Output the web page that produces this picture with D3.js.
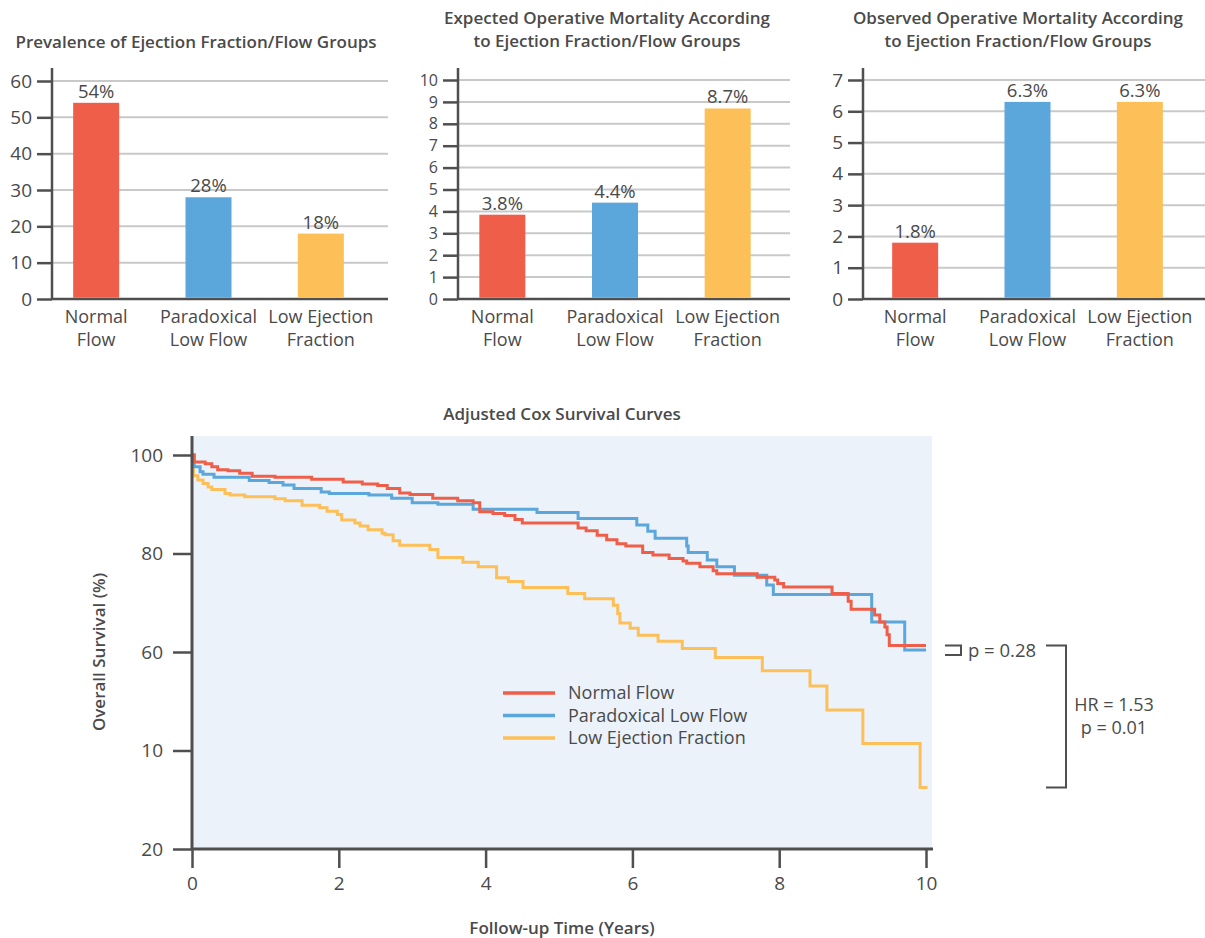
<!DOCTYPE html>
<html><head><meta charset="utf-8">
<script src="https://cdn.jsdelivr.net/npm/d3@7/dist/d3.min.js"></script>
<style>
body{margin:0;background:#fff;}
text{font-family:"Open Sans","Noto Sans",sans-serif;fill:#4a4a4a;}
</style></head>
<body>
<svg id="c" width="1205" height="938"></svg>
<script>
// ---------- DATA ----------
const groups = ["Normal Flow", "Paradoxical Low Flow", "Low Ejection Fraction"];
const groupLines = [["Normal","Flow"],["Paradoxical","Low Flow"],["Low Ejection","Fraction"]];
const colors = ["#EF5E48", "#5BA6DA", "#FDBF58"];

const prevalence = [54, 28, 18];
const prevalenceLabels = ["54%", "28%", "18%"];
const prevalenceTicks = [0, 10, 20, 30, 40, 50, 60];

const expectedMort = [3.85, 4.4, 8.7];
const expectedLabels = ["3.8%", "4.4%", "8.7%"];
const expectedTicks = [0,1,2,3,4,5,6,7,8,9,10];

const observedMort = [1.8, 6.3, 6.3];
const observedLabels = ["1.8%", "6.3%", "6.3%"];
const observedTicks = [0,1,2,3,4,5,6,7];

const survXTicks = [0, 2, 4, 6, 8, 10];
const survYTicks = [100, 80, 60, 40, 20];
const survYTickLabels = ["100", "80", "60", "10", "20"];

// [years, survival %]
const survNormal = [[0,100],[0.03,98.6],[0.18,98.2],[0.27,97.6],[0.35,97.0],[0.49,96.8],[0.65,96.3],[0.82,95.7],[1.13,95.5],[1.63,95.1],[2.06,94.5],[2.32,94.1],[2.53,93.8],[2.66,93.2],[2.83,92.3],[2.97,92.0],[3.28,91.2],[3.62,90.7],[3.83,90.3],[3.92,88.5],[4.10,88.1],[4.26,87.7],[4.40,86.9],[4.50,86.2],[5.26,85.2],[5.37,84.6],[5.52,83.7],[5.65,82.8],[5.79,82.0],[5.91,81.5],[6.14,80.2],[6.28,79.7],[6.50,79.0],[6.69,78.5],[6.74,78.0],[6.92,77.3],[7.10,76.5],[7.15,75.9],[7.70,75.2],[7.94,74.6],[7.98,73.9],[8.06,73.2],[8.72,71.9],[8.94,70.3],[8.98,68.7],[9.30,67.5],[9.37,66.1],[9.44,65.1],[9.47,63.5],[9.50,61.3],[10.0,61.3]];
const survParadoxical = [[0,100],[0.03,97.6],[0.11,96.6],[0.15,96.1],[0.30,95.5],[0.78,94.8],[1.05,94.4],[1.24,93.9],[1.39,93.2],[1.76,92.5],[1.87,92.2],[2.41,91.9],[2.72,91.2],[3.00,90.3],[3.35,90.0],[3.83,89.0],[4.70,88.3],[5.26,87.1],[6.06,85.8],[6.21,84.5],[6.31,83.1],[6.74,81.5],[6.76,80.2],[7.02,78.7],[7.15,77.3],[7.39,75.6],[7.83,73.6],[7.92,71.7],[9.26,66.1],[9.71,60.4],[10.0,60.4]];
const survLowEF = [[0,100],[0.02,95.8],[0.08,94.9],[0.15,94.2],[0.22,93.5],[0.27,93.0],[0.45,92.2],[0.52,91.9],[0.72,91.5],[1.13,91.1],[1.27,90.7],[1.50,89.8],[1.74,89.3],[1.84,88.6],[1.98,87.9],[2.04,86.8],[2.22,86.2],[2.29,85.6],[2.40,84.8],[2.59,84.1],[2.63,83.8],[2.74,82.6],[2.83,81.7],[3.24,80.8],[3.35,79.2],[3.69,78.2],[3.90,77.3],[4.15,75.1],[4.31,74.3],[4.51,73.1],[5.12,71.9],[5.35,70.8],[5.74,69.5],[5.80,67.8],[5.83,65.9],[5.97,64.8],[6.08,63.4],[6.35,62.2],[6.68,60.7],[7.13,58.9],[7.77,56.2],[8.42,53.1],[8.65,48.2],[9.14,41.4],[9.92,32.5],[10.02,32.5]];
const survSeries = [survNormal, survParadoxical, survLowEF];

// ---------- DRAW ----------
const svg = d3.select("#c");
const axisCol = "#4f4f4f";
const titleSize = "17px";

function barChart(cfg){
  const g = svg.append("g");
  const x = d3.scalePoint().domain(groups).range([cfg.x0, cfg.x1]).padding(0.5);
  const y = d3.scaleLinear().domain([0, cfg.max]).range([299, cfg.yTop]);
  g.selectAll(".grid").data(cfg.ticks.filter(t=>t>0)).join("line")
    .attr("x1", cfg.axisX).attr("x2", cfg.gridEnd)
    .attr("y1", d=>y(d)).attr("y2", d=>y(d))
    .attr("stroke", "#c9c9c9").attr("stroke-width", 2);
  const ax = d3.axisLeft(y).tickValues(cfg.ticks).tickSize(15).tickPadding(5).tickFormat(d3.format("d"));
  const ag = g.append("g").attr("transform", `translate(${cfg.axisX},0)`).call(ax);
  ag.select(".domain").remove();
  ag.selectAll(".tick line").attr("stroke", axisCol).attr("stroke-width", 2.5);
  ag.selectAll(".tick text").style("font-size",cfg.tickSize).attr("fill","#4a4a4a");
  g.append("line").attr("x1", cfg.axisX).attr("x2", cfg.axisX).attr("y1", 68).attr("y2", 300)
    .attr("stroke", axisCol).attr("stroke-width", 2.5);
  g.append("line").attr("x1", cfg.axisX).attr("x2", cfg.gridEnd).attr("y1", 299).attr("y2", 299)
    .attr("stroke", axisCol).attr("stroke-width", 2.5);
  const bw = 46;
  g.selectAll(".bar").data(cfg.values).join("rect")
    .attr("x", (d,i)=>x(groups[i]) - bw/2).attr("width", bw)
    .attr("y", d=>y(d)).attr("height", d=>y(0)-y(d)-1.25)
    .attr("fill", (d,i)=>colors[i]);
  g.selectAll(".vl").data(cfg.values).join("text")
    .attr("x", (d,i)=>x(groups[i])).attr("y", d=>y(d)-5)
    .attr("text-anchor","middle").style("font-size","18.5px")
    .text((d,i)=>cfg.labels[i]);
  groups.forEach((gname,i)=>{
    groupLines[i].forEach((ln,j)=>{
      g.append("text").attr("x", x(gname)).attr("y", 323 + j*23)
        .attr("text-anchor","middle").style("font-size","18px").text(ln);
    });
  });
  cfg.title.forEach((t,j)=>{
    g.append("text").attr("x", cfg.titleX).attr("y", cfg.titleY + j*23)
      .attr("text-anchor","middle").style("font-size",titleSize).style("font-weight","600")
      .attr("fill","#444").text(t);
  });
}

barChart({x0:40, x1:377, axisX:52, gridEnd:388, max:60, yTop:81, ticks:prevalenceTicks, tickSize:"19px",
  values:prevalence, labels:prevalenceLabels, title:["Prevalence of Ejection Fraction/Flow Groups"], titleX:196, titleY:48});
barChart({x0:446, x1:784, axisX:458, gridEnd:790, max:10, yTop:80, ticks:expectedTicks, tickSize:"16px",
  values:expectedMort, labels:expectedLabels, title:["Expected Operative Mortality According","to Ejection Fraction/Flow Groups"], titleX:607, titleY:24});
barChart({x0:859, x1:1196, axisX:863, gridEnd:1205, max:7, yTop:80, ticks:observedTicks, tickSize:"19px",
  values:observedMort, labels:observedLabels, title:["Observed Operative Mortality According","to Ejection Fraction/Flow Groups"], titleX:1018, titleY:24});

// ---------- Survival chart ----------
const sx = d3.scaleLinear().domain([0, 10]).range([192, 926]);
const sy = d3.scaleLinear().domain([20, 100]).range([849, 455]);
const sg = svg.append("g");
sg.append("rect").attr("x", 192).attr("y", 436).attr("width", 932-192).attr("height", 849-436).attr("fill", "#EBF2FA");

const line = d3.line().x(d=>sx(d[0])).y(d=>sy(d[1])).curve(d3.curveStepAfter);
[2,1,0].forEach(i=>{
  sg.append("path").datum(survSeries[i]).attr("d", line)
    .attr("fill","none").attr("stroke", colors[i]).attr("stroke-width", 3);
});

const yAx = d3.axisLeft(sy).tickValues(survYTicks).tickSize(19).tickPadding(10)
  .tickFormat((d,i)=>survYTickLabels[i]);
const yg = sg.append("g").attr("transform","translate(192,0)").call(yAx);
yg.select(".domain").remove();
yg.selectAll(".tick line").attr("stroke", axisCol).attr("stroke-width", 2.5);
yg.selectAll(".tick text").style("font-size","19px").attr("fill","#4a4a4a");
const xAx = d3.axisBottom(sx).tickValues(survXTicks).tickSize(19).tickPadding(9).tickFormat(d3.format("d"));
const xg = sg.append("g").attr("transform","translate(0,849)").call(xAx);
xg.select(".domain").remove();
xg.selectAll(".tick line").attr("stroke", axisCol).attr("stroke-width", 2.5);
xg.selectAll(".tick text").style("font-size","19px").attr("fill","#4a4a4a");
sg.append("line").attr("x1",192).attr("x2",192).attr("y1",436).attr("y2",850).attr("stroke",axisCol).attr("stroke-width",3);
sg.append("line").attr("x1",191).attr("x2",933).attr("y1",849).attr("y2",849).attr("stroke",axisCol).attr("stroke-width",3);

sg.append("text").attr("x",562).attr("y",420).attr("text-anchor","middle")
  .style("font-size",titleSize).style("font-weight","600").attr("fill","#444").text("Adjusted Cox Survival Curves");
sg.append("text").attr("x",562).attr("y",934).attr("text-anchor","middle")
  .style("font-size",titleSize).style("font-weight","600").attr("fill","#444").text("Follow-up Time (Years)");
sg.append("text").attr("transform","translate(105,652) rotate(-90)").attr("text-anchor","middle")
  .style("font-size",titleSize).style("font-weight","600").attr("fill","#444").text("Overall Survival (%)");

groups.forEach((gname,i)=>{
  const yy = 693 + i*22.5;
  sg.append("line").attr("x1",503).attr("x2",555).attr("y1",yy).attr("y2",yy)
    .attr("stroke",colors[i]).attr("stroke-width",3.5);
  sg.append("text").attr("x",568).attr("y",yy+6).style("font-size","18px").text(gname);
});

const ann = svg.append("g").attr("fill","none").attr("stroke",axisCol).attr("stroke-width",2);
const yN = sy(survNormal[survNormal.length-1][1]);
const yP = sy(survParadoxical[survParadoxical.length-1][1]);
const yL = sy(survLowEF[survLowEF.length-1][1]);
ann.append("path").attr("d",`M945,${yN}H961V${yP+5}H945`);
ann.append("path").attr("d",`M1046,${yN}H1066V${yL}H1046`);
svg.append("text").attr("x",968).attr("y",657).style("font-size","18.5px").text("p = 0.28");
svg.append("text").attr("x",1114).attr("y",711).attr("text-anchor","middle").style("font-size","18px").text("HR = 1.53");
svg.append("text").attr("x",1114).attr("y",734).attr("text-anchor","middle").style("font-size","18px").text("p = 0.01");
</script>
</body></html>
